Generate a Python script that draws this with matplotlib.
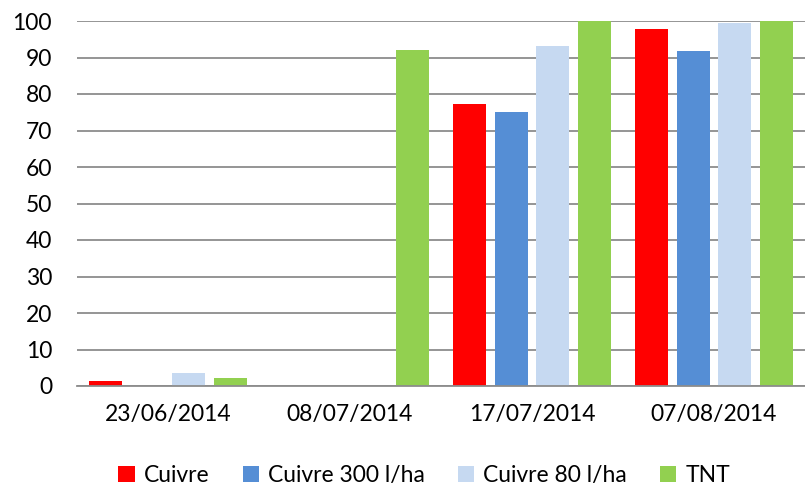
import numpy as np
import matplotlib
matplotlib.use("Agg")
import matplotlib.pyplot as plt

# data
dates = ["23/06/2014", "08/07/2014", "17/07/2014", "07/08/2014"]
series = ["Cuivre", "Cuivre 300 l/ha", "Cuivre 80 l/ha", "TNT"]
cuivre = [1.4, 0, 77.2, 97.7]
cuivre_300 = [0, 0, 75.0, 91.7]
cuivre_80 = [3.6, 0, 93.2, 99.5]
tnt = [2.1, 92.0, 100, 100]
colors = ["#FF0000", "#558ED5", "#C6D9F1", "#92D050"]

plt.rcParams["font.family"] = ["Lato", "DejaVu Sans"]

fig = plt.figure(figsize=(8.05, 4.87), dpi=100)
ax = fig.add_axes([77 / 805, 1 - 386 / 487, 1 - 77 / 805, (386 - 21) / 487])

x = np.arange(len(dates))
width = 33 / 182
pitch = 41.5 / 182
values = [cuivre, cuivre_300, cuivre_80, tnt]
for i, (name, vals) in enumerate(zip(series, values)):
    ax.bar(x + (i - 1.5) * pitch, vals, width, color=colors[i], label=name, zorder=3)

ax.set_xlim(-0.5, 3.5)
ax.set_ylim(0, 100)
ax.set_yticks(range(0, 101, 10))
ax.set_xticks(x)
ax.set_xticklabels(dates)
ax.yaxis.grid(True, color="#8c8c8c", linewidth=1.3, zorder=0)
for s in ["top", "right", "left"]:
    ax.spines[s].set_visible(False)
ax.spines["bottom"].set_color("#8c8c8c")
ax.spines["bottom"].set_linewidth(1.3)
ax.spines["bottom"].set_zorder(4)
ax.tick_params(length=0, labelsize=16.5, colors="black")
ax.tick_params(axis="x", pad=13)
ax.tick_params(axis="y", pad=18)

fig.legend(loc="lower center", bbox_to_anchor=(0.527, -0.04), ncol=4, frameon=False,
           fontsize=16.5, handlelength=0.7, handleheight=0.7, handletextpad=0.4,
           columnspacing=1.45)

fig.savefig("out.png", dpi=100)
